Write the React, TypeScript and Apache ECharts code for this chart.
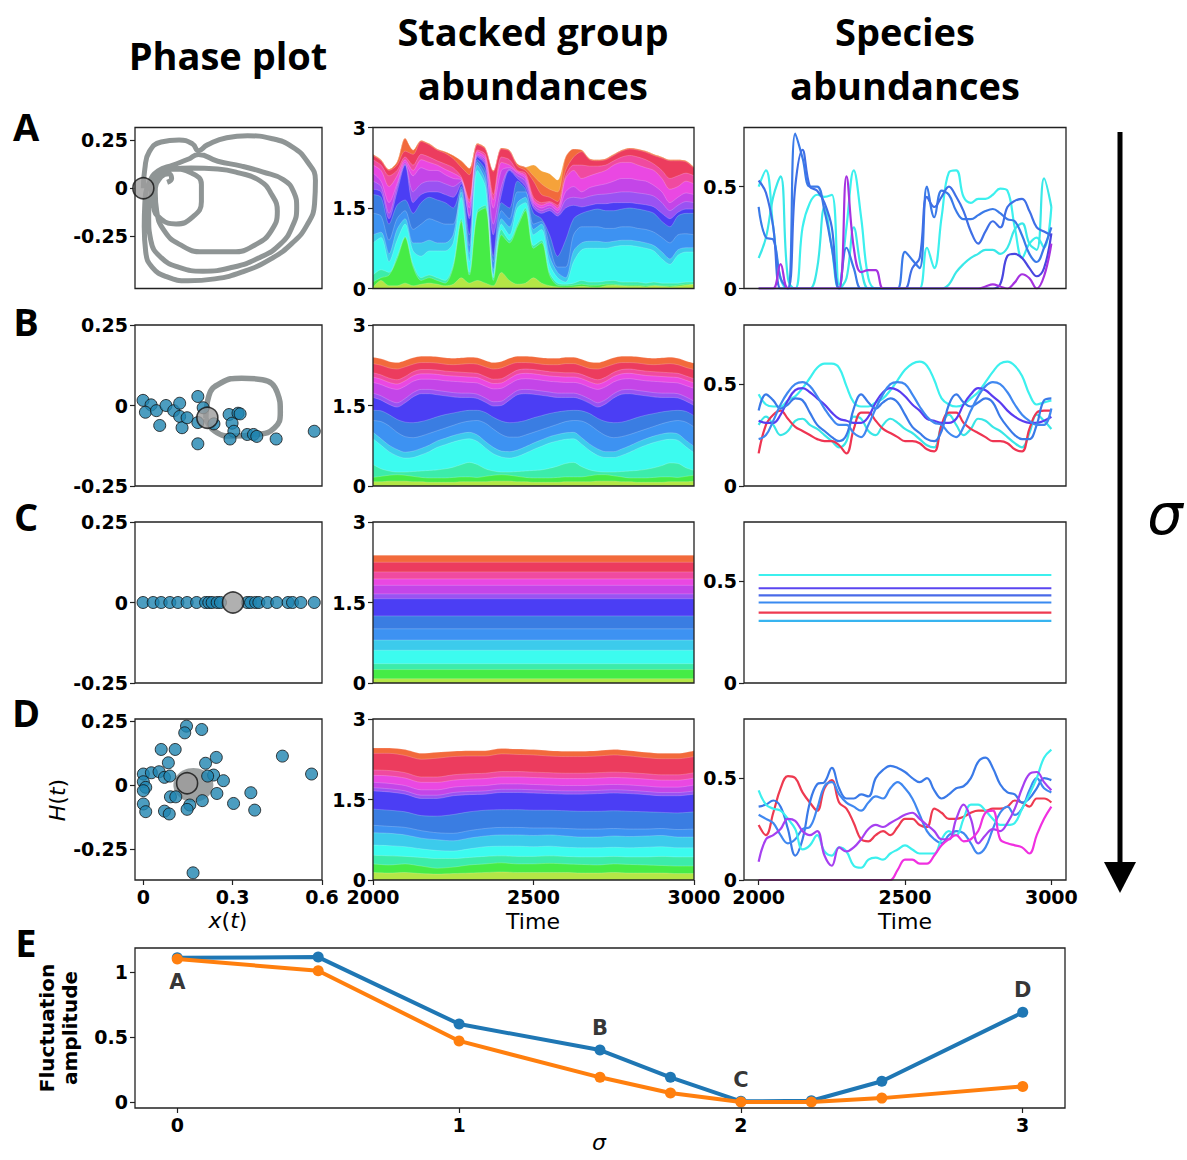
import React, { useEffect, useRef } from 'react';
import * as echarts from 'echarts';

// ---------------- data ----------------
const T41 = [2000,2025,2050,2075,2100,2125,2150,2175,2200,2225,2250,2275,2300,2325,2350,2375,2400,2425,2450,2475,2500,2525,2550,2575,2600,2625,2650,2675,2700,2725,2750,2775,2800,2825,2850,2875,2900,2925,2950,2975,3000];
const T21 = [2000,2050,2100,2150,2200,2250,2300,2350,2400,2450,2500,2550,2600,2650,2700,2750,2800,2850,2900,2950,3000];
const T2 = [2000, 3000];

// stacked group abundances: cumulative top of each layer (bottom -> top)
const STACK_A_TOPS = [
  [0.02,0.15,0.05,0.05,0.10,0.05,0.08,0.10,0.08,0.05,0.08,0.20,0.10,0.15,0.10,0.05,0.30,0.15,0.08,0.10,0.20,0.10,0.05,0.03,0.02,0.03,0.04,0.03,0.02,0.05,0.06,0.05,0.04,0.04,0.03,0.05,0.04,0.03,0.04,0.06,0.08],
  [0.12,0.20,0.25,0.55,0.95,0.40,0.15,0.20,0.15,0.10,0.40,1.25,0.25,1.40,1.50,0.15,1.00,0.85,1.15,1.45,0.75,0.85,0.25,0.06,0.05,0.06,0.08,0.06,0.06,0.08,0.08,0.06,0.06,0.06,0.05,0.06,0.05,0.05,0.06,0.08,0.08],
  [0.25,0.35,0.30,0.60,0.97,0.45,0.20,0.25,0.20,0.15,0.45,1.30,0.30,1.45,1.55,0.20,1.10,0.90,1.20,1.50,0.80,0.90,0.30,0.10,0.08,0.10,0.15,0.12,0.12,0.14,0.15,0.12,0.12,0.12,0.10,0.12,0.10,0.10,0.10,0.12,0.12],
  [0.85,0.95,0.50,0.90,1.20,0.70,0.60,0.70,0.70,0.70,0.85,1.70,0.50,2.20,1.90,0.25,1.20,1.00,1.50,1.60,1.00,1.10,0.45,0.20,0.12,0.50,0.72,0.75,0.75,0.75,0.78,0.80,0.80,0.78,0.75,0.70,0.55,0.45,0.62,0.68,0.68],
  [1.00,1.05,0.65,1.10,1.30,0.85,0.85,0.90,0.85,0.85,1.00,1.80,0.65,2.30,2.00,0.35,1.30,1.15,1.60,1.70,1.10,1.20,0.60,0.30,0.20,0.70,0.85,0.88,0.88,0.86,0.88,0.90,0.90,0.88,0.85,0.80,0.68,0.55,0.72,0.76,0.76],
  [1.40,1.35,0.90,1.30,1.45,1.10,1.20,1.30,1.25,1.20,1.20,1.85,0.80,2.35,2.10,0.50,1.45,1.30,1.80,1.80,1.20,1.25,0.80,0.40,0.40,1.00,1.15,1.15,1.15,1.12,1.12,1.15,1.15,1.12,1.10,1.05,0.95,0.85,1.00,1.02,1.00],
  [1.75,1.70,1.20,1.55,1.65,1.40,1.60,1.70,1.65,1.60,1.50,1.90,1.00,2.40,2.20,0.60,1.60,1.50,2.00,1.85,1.40,1.30,1.00,0.60,0.90,1.30,1.40,1.45,1.48,1.45,1.45,1.48,1.50,1.48,1.45,1.40,1.25,1.15,1.35,1.40,1.40],
  [1.85,1.80,1.30,1.80,2.30,1.60,1.75,1.80,1.80,1.75,1.70,1.95,1.30,2.45,2.30,1.00,1.75,2.20,2.05,1.90,1.50,1.40,1.45,1.35,1.50,1.55,1.52,1.55,1.58,1.58,1.60,1.60,1.60,1.58,1.56,1.52,1.40,1.30,1.42,1.48,1.48],
  [2.00,1.90,1.40,1.90,2.32,1.80,1.95,2.00,2.00,1.95,1.90,2.00,1.35,2.48,2.35,1.20,1.90,2.22,2.10,2.00,1.55,1.45,1.50,1.40,1.65,1.70,1.68,1.72,1.75,1.76,1.78,1.80,1.80,1.78,1.76,1.72,1.60,1.45,1.55,1.62,1.60],
  [2.15,2.00,1.60,1.95,2.35,2.10,2.25,2.20,2.20,2.12,2.05,2.02,1.50,2.50,2.40,1.50,2.20,2.25,2.15,2.05,1.60,1.50,1.55,1.45,1.80,1.90,1.80,1.88,1.92,1.95,2.00,2.05,2.05,2.02,2.00,1.92,1.80,1.60,1.70,1.78,1.75],
  [2.30,2.20,1.90,2.10,2.40,2.20,2.40,2.35,2.30,2.22,2.15,2.05,1.60,2.55,2.45,1.65,2.35,2.30,2.18,2.10,1.65,1.55,1.60,1.50,2.05,2.20,2.05,2.10,2.15,2.20,2.30,2.35,2.35,2.30,2.25,2.20,2.05,1.85,1.90,2.00,1.95],
  [2.40,2.30,2.10,2.20,2.45,2.30,2.50,2.45,2.38,2.32,2.25,2.08,1.65,2.58,2.50,1.75,2.45,2.40,2.20,2.15,1.70,1.60,1.62,1.55,2.10,2.30,2.30,2.28,2.28,2.30,2.38,2.45,2.48,2.45,2.40,2.32,2.20,2.05,2.10,2.15,2.10],
  [2.48,2.38,2.20,2.30,2.56,2.50,2.74,2.68,2.58,2.52,2.42,2.26,2.12,2.68,2.60,2.18,2.60,2.56,2.28,2.20,2.00,1.75,1.70,1.62,2.20,2.45,2.55,2.40,2.38,2.40,2.48,2.56,2.60,2.58,2.54,2.48,2.43,2.38,2.38,2.36,2.24],
  [2.50,2.40,2.22,2.36,2.80,2.58,2.76,2.70,2.60,2.55,2.48,2.38,2.24,2.70,2.62,2.20,2.62,2.58,2.32,2.26,2.10,1.95,1.85,1.80,2.45,2.60,2.58,2.42,2.40,2.42,2.50,2.58,2.62,2.60,2.56,2.50,2.45,2.40,2.40,2.38,2.26],
  [2.50,2.40,2.22,2.36,2.80,2.58,2.76,2.70,2.60,2.55,2.48,2.38,2.24,2.70,2.62,2.20,2.62,2.58,2.32,2.26,2.30,2.19,2.14,2.02,2.45,2.60,2.58,2.42,2.40,2.42,2.50,2.58,2.62,2.60,2.56,2.50,2.45,2.40,2.40,2.38,2.26],
];

const STACK_B_TOPS = [
  [0.08,0.08,0.09,0.09,0.09,0.08,0.08,0.07,0.07,0.07,0.07,0.08,0.08,0.08,0.08,0.09,0.09,0.09,0.08,0.08,0.07,0.07,0.07,0.07,0.08,0.08,0.08,0.08,0.09,0.09,0.09,0.08,0.08,0.07,0.07,0.07,0.07,0.08,0.08,0.08,0.09],
  [0.16,0.18,0.20,0.21,0.20,0.18,0.16,0.15,0.15,0.15,0.16,0.17,0.17,0.16,0.18,0.20,0.21,0.20,0.18,0.16,0.15,0.15,0.15,0.16,0.17,0.17,0.17,0.19,0.21,0.21,0.19,0.17,0.15,0.15,0.15,0.16,0.17,0.17,0.16,0.18,0.20],
  [0.40,0.32,0.28,0.26,0.26,0.27,0.28,0.29,0.30,0.32,0.35,0.40,0.44,0.40,0.32,0.28,0.26,0.26,0.27,0.28,0.29,0.30,0.33,0.37,0.42,0.44,0.36,0.30,0.27,0.26,0.26,0.27,0.28,0.29,0.31,0.34,0.38,0.43,0.42,0.34,0.29],
  [0.88,0.76,0.64,0.56,0.52,0.53,0.58,0.64,0.72,0.77,0.82,0.86,0.88,0.83,0.71,0.60,0.54,0.52,0.55,0.61,0.68,0.74,0.80,0.84,0.87,0.88,0.78,0.66,0.57,0.53,0.53,0.57,0.63,0.70,0.76,0.81,0.85,0.87,0.85,0.73,0.62],
  [1.00,0.88,0.76,0.68,0.63,0.65,0.70,0.76,0.84,0.89,0.94,0.98,1.00,0.95,0.83,0.72,0.65,0.64,0.67,0.73,0.80,0.86,0.92,0.96,0.99,1.00,0.90,0.78,0.69,0.64,0.64,0.69,0.75,0.82,0.88,0.93,0.97,0.99,0.97,0.85,0.74],
  [1.22,1.20,1.12,1.00,0.92,0.90,0.93,0.98,1.03,1.08,1.13,1.18,1.21,1.22,1.17,1.06,0.96,0.91,0.91,0.95,1.00,1.05,1.10,1.15,1.20,1.22,1.21,1.14,1.03,0.94,0.90,0.92,0.96,1.01,1.06,1.11,1.16,1.20,1.22,1.19,1.10],
  [1.41,1.40,1.33,1.24,1.19,1.18,1.20,1.24,1.29,1.33,1.36,1.39,1.41,1.41,1.37,1.28,1.21,1.18,1.19,1.22,1.27,1.31,1.35,1.38,1.40,1.41,1.40,1.35,1.26,1.20,1.18,1.19,1.23,1.28,1.32,1.35,1.38,1.40,1.41,1.39,1.31],
  [1.65,1.60,1.52,1.47,1.55,1.66,1.72,1.72,1.70,1.68,1.66,1.65,1.65,1.63,1.56,1.49,1.50,1.60,1.70,1.72,1.71,1.69,1.67,1.65,1.65,1.65,1.61,1.54,1.47,1.53,1.64,1.71,1.72,1.70,1.68,1.66,1.65,1.65,1.64,1.58,1.50],
  [1.73,1.68,1.60,1.55,1.63,1.74,1.80,1.80,1.78,1.76,1.74,1.73,1.73,1.71,1.64,1.57,1.58,1.68,1.78,1.80,1.79,1.77,1.75,1.73,1.73,1.73,1.69,1.62,1.55,1.61,1.72,1.79,1.80,1.78,1.76,1.74,1.73,1.73,1.72,1.66,1.58],
  [1.93,1.89,1.83,1.80,1.86,1.95,1.99,1.99,1.98,1.96,1.95,1.94,1.93,1.92,1.86,1.81,1.82,1.90,1.98,2.00,1.99,1.97,1.95,1.94,1.93,1.93,1.90,1.84,1.80,1.85,1.94,1.99,2.00,1.98,1.96,1.95,1.94,1.93,1.92,1.87,1.82],
  [2.03,1.99,1.93,1.90,1.96,2.05,2.09,2.09,2.08,2.06,2.05,2.04,2.03,2.02,1.96,1.91,1.92,2.00,2.08,2.10,2.09,2.07,2.05,2.04,2.03,2.03,2.00,1.94,1.90,1.95,2.04,2.09,2.10,2.08,2.06,2.05,2.04,2.03,2.02,1.97,1.92],
  [2.11,2.07,2.01,1.98,2.04,2.13,2.17,2.17,2.16,2.14,2.13,2.12,2.11,2.10,2.04,1.99,2.00,2.08,2.16,2.18,2.17,2.15,2.13,2.12,2.11,2.11,2.08,2.02,1.98,2.03,2.12,2.17,2.18,2.16,2.14,2.13,2.12,2.11,2.10,2.05,2.00],
  [2.28,2.25,2.20,2.18,2.22,2.27,2.30,2.30,2.29,2.27,2.26,2.27,2.28,2.27,2.22,2.18,2.20,2.26,2.30,2.30,2.29,2.27,2.26,2.26,2.28,2.28,2.24,2.19,2.18,2.22,2.27,2.30,2.30,2.29,2.27,2.26,2.27,2.28,2.26,2.21,2.17],
  [2.40,2.37,2.32,2.30,2.34,2.39,2.42,2.42,2.41,2.39,2.38,2.39,2.40,2.39,2.34,2.30,2.32,2.38,2.42,2.42,2.41,2.39,2.38,2.38,2.40,2.40,2.36,2.31,2.30,2.34,2.39,2.42,2.42,2.41,2.39,2.38,2.39,2.40,2.38,2.33,2.29],
];

const STACK_C_TOPS = [
  [0.08,0.08],[0.25,0.25],[0.36,0.36],[0.61,0.61],[0.80,0.80],[1.01,1.01],[1.25,1.25],
  [1.57,1.57],[1.66,1.66],[1.82,1.82],[1.94,1.94],[2.07,2.07],[2.25,2.25],[2.38,2.38],
];

const STACK_D_TOPS = [
  [0.14,0.13,0.14,0.12,0.11,0.12,0.13,0.14,0.15,0.14,0.14,0.14,0.14,0.13,0.13,0.14,0.13,0.13,0.13,0.12,0.12],
  [0.30,0.28,0.30,0.26,0.22,0.24,0.28,0.30,0.32,0.30,0.30,0.31,0.30,0.29,0.28,0.30,0.29,0.28,0.27,0.26,0.26],
  [0.46,0.45,0.44,0.42,0.40,0.40,0.42,0.44,0.45,0.44,0.44,0.45,0.44,0.43,0.43,0.44,0.43,0.43,0.44,0.43,0.43],
  [0.65,0.64,0.62,0.58,0.55,0.54,0.58,0.62,0.63,0.63,0.62,0.63,0.61,0.60,0.60,0.61,0.60,0.61,0.62,0.60,0.60],
  [0.88,0.87,0.84,0.78,0.75,0.73,0.78,0.82,0.84,0.84,0.83,0.84,0.82,0.80,0.80,0.82,0.81,0.82,0.83,0.80,0.80],
  [1.02,1.00,0.98,0.92,0.88,0.87,0.92,0.96,0.98,0.98,0.97,0.97,0.96,0.95,0.95,0.96,0.95,0.95,0.96,0.94,0.95],
  [1.32,1.30,1.27,1.20,1.19,1.22,1.27,1.30,1.31,1.31,1.30,1.30,1.29,1.28,1.28,1.29,1.28,1.27,1.26,1.25,1.27],
  [1.66,1.64,1.60,1.52,1.52,1.57,1.59,1.60,1.63,1.63,1.62,1.61,1.60,1.60,1.61,1.62,1.61,1.59,1.57,1.57,1.60],
  [1.72,1.70,1.66,1.58,1.58,1.63,1.65,1.66,1.69,1.69,1.68,1.67,1.66,1.66,1.67,1.68,1.67,1.65,1.63,1.63,1.66],
  [1.82,1.80,1.76,1.68,1.68,1.73,1.75,1.76,1.79,1.79,1.78,1.77,1.76,1.76,1.77,1.78,1.77,1.75,1.73,1.73,1.77],
  [1.95,1.94,1.90,1.82,1.82,1.86,1.88,1.89,1.92,1.92,1.91,1.90,1.89,1.89,1.90,1.91,1.90,1.88,1.86,1.86,1.90],
  [2.05,2.04,2.00,1.92,1.92,1.96,1.98,1.99,2.02,2.02,2.01,2.00,1.99,1.99,2.00,2.01,2.00,1.98,1.96,1.96,2.00],
  [2.36,2.36,2.32,2.25,2.27,2.30,2.31,2.31,2.35,2.34,2.33,2.31,2.30,2.30,2.31,2.33,2.31,2.28,2.26,2.26,2.30],
  [2.46,2.46,2.43,2.36,2.38,2.40,2.41,2.41,2.45,2.44,2.43,2.41,2.40,2.40,2.41,2.43,2.41,2.38,2.36,2.36,2.41],
];

// species abundances
const SPECIES_A = [
  [0.50,0.58,0.30,0.05,0.00,0.00,0.30,0.42,0.46,0.45,0.46,0.02,0.30,0.58,0.35,0.05,0,0,0,0,0,0,0,0.20,0.10,0.35,0.57,0.58,0.45,0.42,0.44,0.44,0.46,0.49,0.48,0.30,0.15,0.22,0.25,0.20,0.40],
  [0.15,0.25,0.45,0.55,0.05,0,0,0,0.10,0.40,0.20,0,0.05,0.30,0.10,0,0,0,0,0,0,0,0,0,0,0,0.02,0.08,0.12,0.15,0.17,0.19,0.19,0.17,0.20,0.29,0.32,0.22,0.19,0.54,0.40],
  [0.40,0.25,0.24,0.05,0.00,0.76,0.64,0.50,0.50,0.38,0.20,0.00,0.20,0.10,0,0,0,0,0,0,0.18,0.14,0.10,0.50,0.35,0.48,0.46,0.38,0.34,0.34,0.36,0.38,0.39,0.37,0.34,0.33,0.26,0.17,0.13,0.20,0.30],
  [0.53,0.47,0.30,0.00,0.00,0.50,0.68,0.50,0.48,0.42,0.30,0.00,0,0,0,0,0,0,0,0,0,0.10,0.15,0.45,0.40,0.45,0.50,0.45,0.38,0.28,0.22,0.28,0.33,0.30,0.40,0.43,0.44,0.38,0.30,0.28,0.26],
  [0,0,0,0,0,0,0,0,0,0,0,0,0,0,0,0,0,0,0,0,0,0,0,0,0,0,0,0,0,0,0,0,0,0.02,0.16,0.17,0.15,0.10,0.06,0.10,0.27],
  [0,0,0,0.12,0,0,0,0,0,0,0,0,0.55,0.20,0.08,0.09,0.09,0,0,0,0,0,0,0,0,0,0,0,0,0,0,0.01,0.02,0.01,0,0.03,0.07,0.05,0,0.06,0.22],
];
const SPECIES_B = [
  [0.45,0.40,0.39,0.39,0.42,0.44,0.48,0.53,0.58,0.60,0.60,0.58,0.49,0.41,0.39,0.39,0.41,0.43,0.47,0.52,0.57,0.60,0.61,0.59,0.52,0.43,0.40,0.39,0.40,0.43,0.46,0.51,0.56,0.60,0.61,0.59,0.54,0.45,0.40,0.41,0.42],
  [0.30,0.34,0.30,0.25,0.27,0.32,0.33,0.30,0.28,0.25,0.22,0.19,0.22,0.34,0.33,0.27,0.25,0.30,0.33,0.31,0.28,0.26,0.23,0.20,0.19,0.30,0.35,0.30,0.25,0.28,0.33,0.32,0.29,0.27,0.24,0.21,0.19,0.26,0.35,0.32,0.28],
  [0.16,0.30,0.35,0.37,0.33,0.29,0.27,0.25,0.23,0.22,0.22,0.20,0.16,0.28,0.36,0.36,0.32,0.28,0.26,0.24,0.22,0.22,0.21,0.18,0.17,0.30,0.36,0.36,0.31,0.28,0.26,0.24,0.22,0.22,0.21,0.18,0.17,0.28,0.36,0.37,0.37],
  [0.32,0.31,0.31,0.35,0.42,0.47,0.48,0.46,0.43,0.40,0.36,0.33,0.32,0.31,0.31,0.34,0.41,0.46,0.48,0.47,0.44,0.40,0.37,0.33,0.32,0.31,0.31,0.33,0.40,0.45,0.48,0.47,0.44,0.41,0.37,0.34,0.32,0.31,0.31,0.32,0.34],
  [0.37,0.45,0.42,0.38,0.40,0.43,0.42,0.36,0.30,0.27,0.24,0.22,0.25,0.38,0.45,0.41,0.38,0.41,0.43,0.41,0.35,0.29,0.26,0.23,0.22,0.27,0.40,0.45,0.41,0.39,0.41,0.43,0.41,0.34,0.29,0.25,0.23,0.23,0.30,0.42,0.43],
  [0.23,0.25,0.32,0.40,0.46,0.50,0.51,0.49,0.44,0.38,0.33,0.30,0.30,0.26,0.24,0.30,0.38,0.45,0.50,0.51,0.50,0.45,0.39,0.34,0.31,0.30,0.26,0.24,0.29,0.37,0.44,0.49,0.51,0.50,0.46,0.40,0.35,0.32,0.30,0.30,0.38],
];
const SPECIES_C = [0.53, 0.465, 0.43, 0.395, 0.345, 0.305];
const SPECIES_D = [
  [0.27,0.22,0.33,0.45,0.51,0.50,0.43,0.38,0.34,0.45,0.49,0.38,0.35,0.28,0.20,0.19,0.22,0.24,0.22,0.26,0.30,0.30,0.27,0.26,0.35,0.33,0.30,0.30,0.31,0.33,0.34,0.34,0.35,0.35,0.36,0.39,0.38,0.36,0.40,0.40,0.38],
  [0.36,0.37,0.39,0.36,0.25,0.12,0.20,0.38,0.47,0.48,0.55,0.45,0.40,0.40,0.42,0.41,0.50,0.54,0.56,0.55,0.53,0.50,0.48,0.50,0.44,0.40,0.42,0.45,0.46,0.50,0.58,0.60,0.55,0.47,0.43,0.42,0.38,0.40,0.45,0.50,0.49],
  [0.32,0.30,0.28,0.22,0.18,0.20,0.25,0.26,0.35,0.46,0.48,0.42,0.38,0.36,0.34,0.38,0.41,0.40,0.45,0.48,0.45,0.40,0.32,0.24,0.20,0.18,0.22,0.24,0.23,0.18,0.13,0.16,0.25,0.33,0.36,0.32,0.35,0.44,0.50,0.45,0.43],
  [0.44,0.37,0.35,0.34,0.30,0.25,0.15,0.17,0.22,0.14,0.12,0.16,0.14,0.07,0.06,0.10,0.11,0.10,0.13,0.15,0.17,0.15,0.13,0.13,0.13,0.20,0.24,0.22,0.30,0.37,0.37,0.34,0.30,0.27,0.27,0.28,0.35,0.42,0.50,0.60,0.64],
  [0.09,0.20,0.22,0.25,0.30,0.29,0.24,0.22,0.24,0.12,0.07,0.16,0.14,0.16,0.20,0.25,0.27,0.26,0.28,0.30,0.32,0.33,0.30,0.27,0.24,0.20,0.20,0.30,0.37,0.30,0.18,0.22,0.25,0.24,0.28,0.35,0.45,0.52,0.53,0.48,0.44],
  [0,0,0,0,0,0,0,0,0,0,0,0,0,0,0,0,0,0,0,0.05,0.10,0.10,0.08,0.08,0.12,0.17,0.20,0.22,0.19,0.20,0.24,0.33,0.34,0.20,0.18,0.17,0.16,0.13,0.22,0.30,0.36],
];

// phase plots
const PHASE_A_TRAJ = [
  [0.0,0.0],[0.005,0.1],[0.02,0.19],[0.06,0.24],[0.12,0.25],[0.165,0.23],[0.185,0.195],[0.215,0.225],[0.28,0.262],[0.35,0.272],[0.43,0.258],[0.5,0.215],[0.55,0.14],[0.578,0.04],[0.575,-0.08],[0.55,-0.19],[0.5,-0.285],[0.43,-0.365],[0.34,-0.43],[0.24,-0.47],[0.15,-0.48],[0.08,-0.46],[0.03,-0.41],[0.008,-0.33],[0.003,-0.2],[0.005,-0.08],[0.02,0.03],
  [0.05,0.09],[0.1,0.12],[0.15,0.15],[0.185,0.175],[0.25,0.14],[0.33,0.115],[0.4,0.085],[0.47,0.045],[0.505,-0.02],[0.515,-0.1],[0.5,-0.2],[0.46,-0.29],[0.39,-0.36],[0.3,-0.41],[0.2,-0.43],[0.12,-0.41],[0.06,-0.36],[0.025,-0.27],[0.018,-0.15],[0.025,-0.04],[0.045,0.06],
  [0.1,0.1],[0.16,0.105],[0.25,0.1],[0.32,0.08],[0.39,0.04],[0.43,-0.03],[0.45,-0.12],[0.43,-0.22],[0.38,-0.29],[0.3,-0.33],[0.2,-0.33],[0.12,-0.29],[0.07,-0.22],[0.045,-0.12],[0.04,-0.02],[0.06,0.06],
  [0.1,0.1],[0.16,0.08],[0.195,0.02],[0.195,-0.07],[0.165,-0.15],[0.11,-0.185],[0.06,-0.16],[0.035,-0.09],[0.035,0.0],[0.06,0.06],[0.085,0.075],[0.095,0.05],[0.08,0.03]
];
const PHASE_A_STATE = [0.0, 0.0];
const PHASE_B_TRAJ = [[0.21,-0.04],[0.22,0.03],[0.26,0.07],[0.33,0.085],[0.4,0.08],[0.45,0.04],[0.46,-0.02],[0.44,-0.07],[0.38,-0.09],[0.3,-0.095],[0.24,-0.08],[0.21,-0.04]];
const PHASE_B_DOTS = [[-0.001,0.016],[0.026,0.002],[0.007,-0.021],[0.044,-0.016],[0.076,0.0],[0.102,-0.016],[0.122,0.007],[0.122,-0.034],[0.13,-0.069],[0.055,-0.062],[0.147,-0.038],[0.183,0.028],[0.183,-0.053],[0.201,-0.007],[0.237,-0.057],[0.183,-0.119],[0.288,-0.028],[0.298,-0.055],[0.304,-0.08],[0.318,-0.024],[0.325,-0.026],[0.291,-0.104],[0.349,-0.09],[0.37,-0.09],[0.381,-0.096],[0.446,-0.104],[0.574,-0.08]];
const PHASE_B_STATE = [0.215, -0.038];
const PHASE_C_DOTS_X = [-0.001,0.033,0.06,0.089,0.116,0.147,0.179,0.209,0.22,0.231,0.248,0.259,0.349,0.36,0.377,0.388,0.417,0.448,0.486,0.501,0.529,0.574];
const PHASE_C_STATE = [0.301, 0];
const PHASE_D_DOTS = [[0.145,0.23],[0.139,0.204],[0.196,0.217],[0.06,0.139],[0.107,0.139],[0.084,0.087],[0.209,0.085],[0.245,0.108],[0.0,0.043],[0.027,0.048],[0.053,0.052],[0.071,0.03],[0.089,0.035],[0.0,0.013],[0.008,-0.009],[0.0,-0.022],[0.236,0.039],[0.216,0.035],[0.269,0.017],[0.0,-0.074],[0.008,-0.104],[0.091,-0.046],[0.109,-0.046],[0.247,-0.033],[0.198,-0.061],[0.156,-0.078],[0.147,-0.095],[0.071,-0.102],[0.087,-0.113],[0.303,-0.072],[0.361,-0.03],[0.374,-0.098],[0.467,0.113],[0.565,0.043],[0.167,-0.343]];
const PHASE_D_BLOB = [0.168, 0.0];
const PHASE_D_STATE = [0.147, 0.007];

// panel E
const SIGMA = [0, 0.5, 1, 1.5, 1.75, 2, 2.25, 2.5, 3];
const AMP_BLUE = [1.11, 1.115, 0.60, 0.40, 0.19, 0.005, 0.01, 0.16, 0.69];
const AMP_ORANGE = [1.10, 1.01, 0.47, 0.19, 0.07, 0.0, 0.0, 0.03, 0.12];
const E_LABELS = [[0, 0.92, 'A'], [1.5, 0.57, 'B'], [2, 0.17, 'C'], [3, 0.86, 'D']];

// ---------------- styles / layout ----------------
const LAYER_COLORS = ['#b4e646','#46ec46','#3cecaa','#3cfbef','#3ccbec','#3d92f2','#3a7de2','#4b3ef4','#9a52f2','#c445e8','#ea48e2','#f04aa0','#ec3c5e','#f26a3c','#f5a23a'];
const SPECIES_A_COLORS = ['#3cf0ee','#3ae8e8','#3a7ae8','#3f6fe6','#4a46e0','#a632e0'];
const SPECIES_B_COLORS = ['#3cf0ee','#3ae6e6','#ee3552','#5a3cf0','#3a7ae8','#4088f0'];
const SPECIES_C_COLORS = ['#3cf0ee','#5a46f0','#4a6ae8','#3a8af0','#ee3a50','#38b4f0'];
const SPECIES_D_COLORS = ['#ee3a50','#3a7ae8','#4088f0','#3cf0ee','#a640f0','#f030e0'];
const GRAY = '#8f9595';
const DOT = '#1f84b0';

const ROW_TOP = [127.5, 325, 522, 719];
const ROW_H = 161;
const COLS = [{ left: 135, width: 187 }, { left: 373, width: 321 }, { left: 744, width: 322 }];
const E_BOX = { left: 135, top: 948, width: 930, height: 160 };
const FONT = 'DejaVu Sans';
const TITLE_FONT = 'Open Sans';

function fmt(v: number) {
  return Math.abs(v) < 1e-9 ? '0' : String(v);
}
function axisParts(values: number[] | null) {
  if (!values) return { axisTick: { show: false }, axisLabel: { show: false } };
  return {
    axisTick: { show: true, length: 5, customValues: values, lineStyle: { color: '#222', width: 1.2 } },
    axisLabel: { show: true, customValues: values, color: '#000', fontFamily: FONT, fontWeight: 'bold', fontSize: 19, margin: 7, formatter: (v: number) => fmt(v) },
  };
}
function mkAxis(gridIndex: number, min: number, max: number, ticks: number[] | null) {
  return { type: 'value', gridIndex, min, max, axisLine: { show: false, onZero: false }, splitLine: { show: false }, ...axisParts(ticks) };
}

function buildOption() {
  const grid: any[] = [];
  const xAxis: any[] = [];
  const yAxis: any[] = [];
  const PHASE_Y = [[-0.52, 0.315], [-0.25, 0.25], [-0.25, 0.25], [-0.371, 0.258]];
  for (let r = 0; r < 4; r++) {
    for (let c = 0; c < 3; c++) {
      const g = r * 3 + c;
      grid.push({ left: COLS[c].left, top: ROW_TOP[r], width: COLS[c].width, height: ROW_H, show: false });
      const last = r === 3;
      if (c === 0) {
        xAxis.push(mkAxis(g, -0.028, 0.6, last ? [0, 0.3, 0.6] : null));
        yAxis.push(mkAxis(g, PHASE_Y[r][0], PHASE_Y[r][1], [-0.25, 0, 0.25]));
      } else if (c === 1) {
        xAxis.push(mkAxis(g, 2000, 3000, last ? [2000, 2500, 3000] : null));
        yAxis.push(mkAxis(g, 0, 3, [0, 1.5, 3]));
      } else {
        xAxis.push(mkAxis(g, 1950, 3050, last ? [2000, 2500, 3000] : null));
        yAxis.push(mkAxis(g, 0, 0.79, [0, 0.5]));
      }
    }
  }
  grid.push({ left: E_BOX.left, top: E_BOX.top, width: E_BOX.width, height: E_BOX.height, show: false });
  xAxis.push(mkAxis(12, -0.15, 3.15, [0, 1, 2, 3]));
  yAxis.push(mkAxis(12, -0.046, 1.185, [0, 0.5, 1]));

  const series: any[] = [];
  const stackRows = [
    { tops: STACK_A_TOPS, times: T41 },
    { tops: STACK_B_TOPS, times: T41 },
    { tops: STACK_C_TOPS, times: T2 },
    { tops: STACK_D_TOPS, times: T21 },
  ];
  stackRows.forEach((row, r) => {
    const g = r * 3 + 1;
    for (let k = row.tops.length - 1; k >= 0; k--) {
      series.push({
        type: 'line', xAxisIndex: g, yAxisIndex: g, symbol: 'none', silent: true,
        smooth: row.times.length > 2 ? 0.3 : false,
        data: row.times.map((t, i) => [t, row.tops[k][i]]),
        lineStyle: { width: 0.6, color: 'rgba(255,255,255,0.35)' },
        areaStyle: { color: LAYER_COLORS[k], opacity: 1 },
      });
    }
  });
  const spRows = [
    { vals: SPECIES_A, colors: SPECIES_A_COLORS, times: T41 },
    { vals: SPECIES_B, colors: SPECIES_B_COLORS, times: T41 },
    { vals: SPECIES_C.map((v) => [v, v]), colors: SPECIES_C_COLORS, times: T2 },
    { vals: SPECIES_D, colors: SPECIES_D_COLORS, times: T41 },
  ];
  spRows.forEach((row, r) => {
    const g = r * 3 + 2;
    row.vals.forEach((vals, k) => {
      series.push({
        type: 'line', xAxisIndex: g, yAxisIndex: g, symbol: 'none', silent: true,
        smooth: row.times.length > 2 ? 0.4 : false,
        data: row.times.map((t, i) => [t, vals[i]]),
        lineStyle: { width: 2.2, color: row.colors[k] },
        itemStyle: { color: row.colors[k] },
      });
    });
  });
  const stateStyle = { color: '#9c9c9c', borderColor: '#111', borderWidth: 1.6 };
  const dotStyle = { color: DOT, borderColor: '#111', borderWidth: 1 };
  series.push({ type: 'line', xAxisIndex: 0, yAxisIndex: 0, data: PHASE_A_TRAJ, smooth: 0.5, symbol: 'none', silent: true, lineStyle: { width: 5, color: GRAY } });
  series.push({ type: 'scatter', xAxisIndex: 0, yAxisIndex: 0, data: [PHASE_A_STATE], symbolSize: 21, clip: false, itemStyle: stateStyle, z: 5 });

  series.push({ type: 'line', xAxisIndex: 3, yAxisIndex: 3, data: PHASE_B_TRAJ, smooth: 0.5, symbol: 'none', silent: true, lineStyle: { width: 5.5, color: GRAY } });
  series.push({ type: 'scatter', xAxisIndex: 3, yAxisIndex: 3, data: PHASE_B_DOTS, symbolSize: 12, itemStyle: dotStyle, z: 4 });
  series.push({ type: 'scatter', xAxisIndex: 3, yAxisIndex: 3, data: [PHASE_B_STATE], symbolSize: 21, clip: false, itemStyle: stateStyle, z: 5 });

  series.push({ type: 'scatter', xAxisIndex: 6, yAxisIndex: 6, data: PHASE_C_DOTS_X.map((x) => [x, 0]), symbolSize: 12, itemStyle: dotStyle, z: 4 });
  series.push({ type: 'scatter', xAxisIndex: 6, yAxisIndex: 6, data: [PHASE_C_STATE], symbolSize: 21, clip: false, itemStyle: stateStyle, z: 5 });

  series.push({ type: 'scatter', xAxisIndex: 9, yAxisIndex: 9, data: [PHASE_D_BLOB], symbolSize: [40, 34], silent: true, itemStyle: { color: '#999d9d', opacity: 0.95 }, z: 3 });
  series.push({ type: 'scatter', xAxisIndex: 9, yAxisIndex: 9, data: PHASE_D_DOTS, symbolSize: 12, itemStyle: dotStyle, z: 4 });
  series.push({ type: 'scatter', xAxisIndex: 9, yAxisIndex: 9, data: [PHASE_D_STATE], symbolSize: 21, clip: false, itemStyle: stateStyle, z: 5 });

  series.push({ type: 'line', xAxisIndex: 12, yAxisIndex: 12, data: SIGMA.map((s, i) => [s, AMP_BLUE[i]]), symbol: 'circle', symbolSize: 11, lineStyle: { width: 4, color: '#1f77b4' }, itemStyle: { color: '#1f77b4' }, z: 3 });
  series.push({ type: 'line', xAxisIndex: 12, yAxisIndex: 12, data: SIGMA.map((s, i) => [s, AMP_ORANGE[i]]), symbol: 'circle', symbolSize: 11, lineStyle: { width: 4, color: '#ff7f0e' }, itemStyle: { color: '#ff7f0e' }, z: 4 });
  series.push({
    type: 'scatter', xAxisIndex: 12, yAxisIndex: 12, data: E_LABELS, symbolSize: 1, itemStyle: { color: 'rgba(0,0,0,0)' }, z: 6,
    label: { show: true, position: 'inside', formatter: (p: any) => p.value[2], color: '#000', fontFamily: FONT, fontWeight: 'bold', fontSize: 21 },
  });

  const graphic: any[] = [];
  for (let r = 0; r < 4; r++) {
    for (let c = 0; c < 3; c++) {
      graphic.push({ type: 'rect', silent: true, z: 100, shape: { x: COLS[c].left, y: ROW_TOP[r], width: COLS[c].width, height: ROW_H }, style: { fill: 'none', stroke: '#222', lineWidth: 1.3 } });
    }
  }
  graphic.push({ type: 'rect', silent: true, z: 100, shape: { x: E_BOX.left, y: E_BOX.top, width: E_BOX.width, height: E_BOX.height }, style: { fill: 'none', stroke: '#222', lineWidth: 1.3 } });

  const txt = (text: string, x: number, y: number, size: number, opts: any = {}) => ({
    type: 'text', x, y, z: 100, silent: true, rotation: opts.rotation || 0,
    style: {
      text, fill: '#000', fontSize: size, fontFamily: opts.family || FONT, fontWeight: opts.weight || 'bold', fontStyle: opts.style || 'normal',
      align: 'center', verticalAlign: 'middle', textAlign: 'center', textVerticalAlign: 'middle', lineHeight: opts.lineHeight,
      rich: opts.rich,
    },
  });
  graphic.push(txt('Phase plot', 228, 55, 38, { family: TITLE_FONT }));
  graphic.push(txt('Stacked group', 533, 31, 38, { family: TITLE_FONT }));
  graphic.push(txt('abundances', 533, 85, 38, { family: TITLE_FONT }));
  graphic.push(txt('Species', 905, 31, 38, { family: TITLE_FONT }));
  graphic.push(txt('abundances', 905, 85, 38, { family: TITLE_FONT }));
  [['A', 126], ['B', 321], ['C', 516], ['D', 712], ['E', 942]].forEach(([l, y]) => {
    graphic.push(txt(l as string, 26, y as number, 38, { family: TITLE_FONT, weight: 'bolder' }));
  });
  const richBase = { fontSize: 22, fontFamily: FONT, fontWeight: 'normal', fill: '#000' };
  const richItalic = { ...richBase, fontStyle: 'italic' };
  graphic.push(txt('{i|x}{n|(}{i|t}{n|)}', 228, 920, 22, { rich: { i: richItalic, n: richBase } }));
  graphic.push(txt('{i|H}{n|(}{i|t}{n|)}', 57, 800, 22, { rotation: Math.PI / 2, rich: { i: richItalic, n: richBase } }));
  graphic.push(txt('Time', 533, 921, 22, { weight: 'normal' }));
  graphic.push(txt('Time', 905, 921, 22, { weight: 'normal' }));
  graphic.push(txt('Fluctuation\namplitude', 58, 1028, 20, { rotation: Math.PI / 2, lineHeight: 23, weight: 'bold' }));
  graphic.push(txt('σ', 599, 1142, 22, { style: 'italic', weight: 'normal' }));
  graphic.push(txt('σ', 1165, 514, 56, { style: 'italic', weight: 'normal' }));
  graphic.push({ type: 'line', silent: true, z: 100, shape: { x1: 1120, y1: 132, x2: 1120, y2: 866 }, style: { stroke: '#000', lineWidth: 5 } });
  graphic.push({ type: 'polygon', silent: true, z: 100, shape: { points: [[1104, 862], [1136, 862], [1120, 893]] }, style: { fill: '#000' } });

  return { animation: false, backgroundColor: '#fff', grid, xAxis, yAxis, series, graphic };
}

export default function App() {
  const ref = useRef<HTMLDivElement>(null);
  useEffect(() => {
    document.body.style.margin = '0';
    if (!ref.current) return;
    const chart = echarts.init(ref.current, undefined, { renderer: 'svg' });
    chart.setOption(buildOption() as any);
    return () => chart.dispose();
  }, []);
  return <div ref={ref} style={{ width: 1187, height: 1160 }} />;
}
